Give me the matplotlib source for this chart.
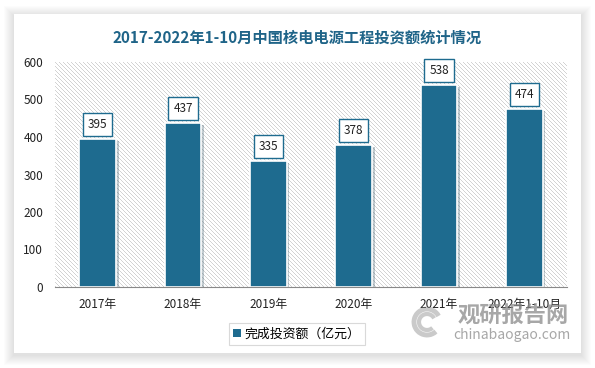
import matplotlib.pyplot as plt
import matplotlib.patheffects as pe
from matplotlib.patches import Rectangle, Arc
import numpy as np

plt.rcParams['font.family'] = ['Noto Sans CJK SC', 'DejaVu Sans']

# data
years = ['2017年', '2018年', '2019年', '2020年', '2021年', '2022年1-10月']
invest = [395, 437, 335, 378, 538, 474]
series_name = '完成投资额（亿元）'
title = '2017-2022年1-10月中国核电电源工程投资额统计情况'

bar_color = '#1e6b8f'
title_color = '#1f6488'

W, H = 595, 368
fig = plt.figure(figsize=(W / 100, H / 100), dpi=100)
fig.patch.set_facecolor('white')

def fig_rect(x0, y0, x1, y1, **kw):
    # pixel box (top-left origin) -> figure rectangle
    return Rectangle((x0 / W, 1 - y1 / H), (x1 - x0) / W, (y1 - y0) / H,
                     transform=fig.transFigure, **kw)

# soft card shadow + white card
for d in range(10, 0, -1):
    fig.patches.append(fig_rect(14 - d, 14 - d + 2, 581 + d, 353 + d + 2,
                                facecolor='black', alpha=0.012,
                                edgecolor='none', zorder=0))
fig.patches.append(fig_rect(14, 14, 581, 353, facecolor='white',
                            edgecolor='none', zorder=1))

ax = fig.add_axes([55 / W, 1 - 287 / H, 512 / W, 225 / H])
ax.set_zorder(2)
ax.set_facecolor('white')

x = np.arange(len(years))

# pixel-crisp diagonal stripe texture behind the plot
rows, cols = np.indices((225, 512))
stripes = np.where((cols - rows) % 4 == 0, 0.83, 1.0)
ax.imshow(stripes, cmap='gray', vmin=0, vmax=1, aspect='auto',
          interpolation='nearest', extent=(-0.5, len(years) - 0.5, 0, 600),
          zorder=0)

ax.set_xlim(-0.5, len(years) - 0.5)
ax.set_ylim(0, 600)

bars = ax.bar(x, invest, width=0.43, color=bar_color, edgecolor='white',
              linewidth=1.2, zorder=3,
              path_effects=[pe.SimplePatchShadow(offset=(2, -1.5), alpha=0.25,
                                                 rho=0.5),
                            pe.Normal()])

for xi, v in zip(x, invest):
    ax.annotate(str(v), (xi, v), xytext=(0, 10.5), textcoords='offset points',
                ha='center', va='center', fontsize=8.5, color='#222222',
                zorder=5,
                bbox=dict(boxstyle='square,pad=0.42', facecolor='white',
                          edgecolor=bar_color, linewidth=1.0))

ax.set_yticks(range(0, 601, 100))
ax.tick_params(axis='y', length=0, labelsize=8.5, colors='#222222', pad=8.5)
ax.set_xticks(x)
ax.set_xticklabels(years, fontsize=8.5, color='#222222')
ax.tick_params(axis='x', length=0, pad=8)

for s in ['top', 'right', 'left']:
    ax.spines[s].set_visible(False)
ax.spines['bottom'].set_color('#888888')
ax.spines['bottom'].set_zorder(4)

fig.text(0.5, 1 - 38 / H, title, ha='center', va='center', fontsize=11,
         fontweight='bold', color=title_color, zorder=5)

leg = ax.legend([bars], [series_name], loc='center',
                bbox_to_anchor=(297 / W, 1 - 334 / H),
                bbox_transform=fig.transFigure, fontsize=9.3, frameon=True,
                fancybox=False, edgecolor='#d0d0d0', handlelength=0.6,
                handleheight=0.6, handletextpad=0.3, borderpad=0.35,
                borderaxespad=0)
leg.get_frame().set_linewidth(0.8)
for h in leg.legend_handles:
    h.set_path_effects([])
    h.set_edgecolor('none')

# watermark
wm = '#8a8a8a'
for r, lw in [(26, 3.5), (16, 3.0)]:
    fig.patches.append(Arc((427 / W, 1 - 322 / H), r / W, r / H,
                           theta1=40, theta2=300, color=wm, alpha=0.45,
                           linewidth=lw, transform=fig.transFigure, zorder=6))
fig.text(513 / W, 1 - 316 / H, '观研报告网', ha='center', va='center',
         fontsize=16, fontweight='bold', color=wm, alpha=0.75, zorder=6)
fig.text(512 / W, 1 - 335 / H, 'chinabaogao.com', ha='center', va='center',
         fontsize=10, color=wm, alpha=0.75, zorder=6)

fig.savefig('out.png', dpi=100, facecolor=fig.get_facecolor())
